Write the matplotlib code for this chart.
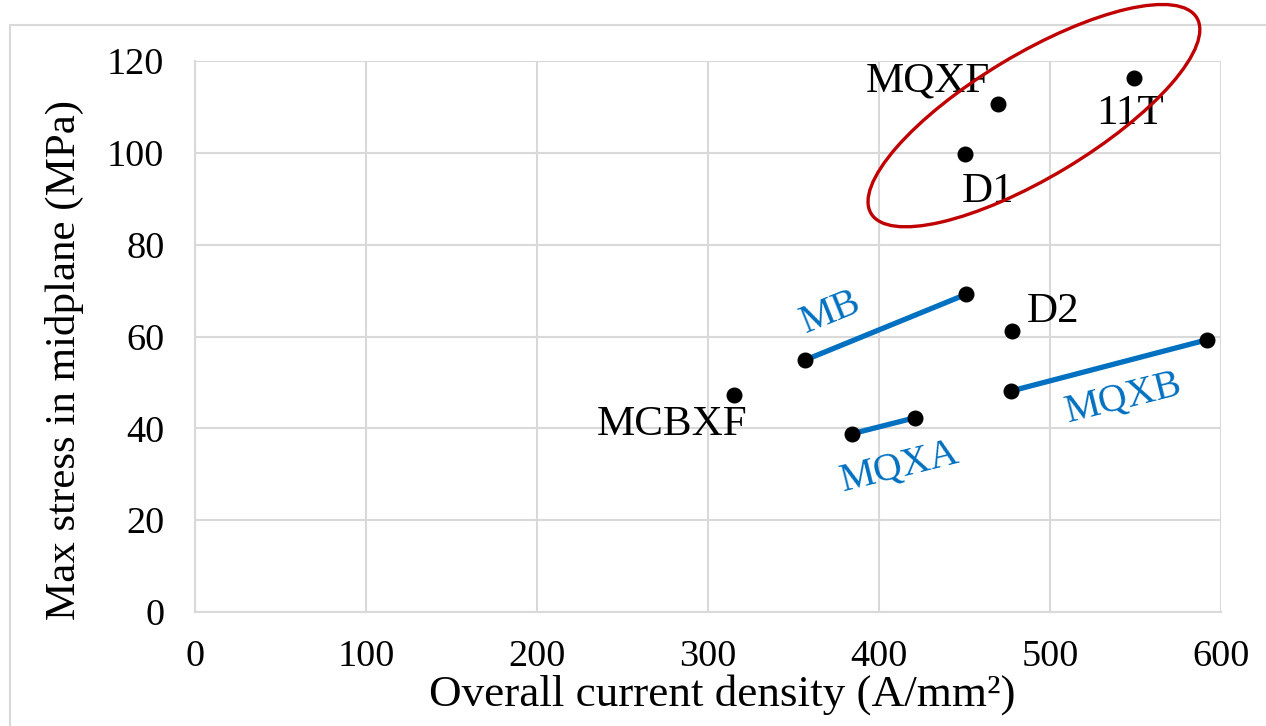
import matplotlib
matplotlib.use("Agg")
import matplotlib.pyplot as plt
from matplotlib.patches import Ellipse, Rectangle
from matplotlib.transforms import IdentityTransform

plt.rcParams['font.family'] = ['Liberation Serif', 'DejaVu Serif']

# single magnets (black dots)
pt_names = ['MQXF', '11T', 'D1', 'D2', 'MCBXF']
pt_x = [469.8, 549, 450, 478, 315]
pt_y = [110.6, 116.4, 99.8, 61.2, 47.3]

# magnet families (blue segments, two points each)
seg_names = ['MB', 'MQXA', 'MQXB']
seg_x = [[357, 451], [384, 421], [477, 592]]
seg_y = [[54.9, 69.2], [38.8, 42.3], [48.1, 59.3]]

# label placement (data coords) and rotation
pt_lab_pos = [(428.7, 115.6), (547, 108.5), (464, 91.6), (502, 65.4), (279, 40.7)]
seg_lab_pos = [(372, 65.1), (412, 31.6), (543, 46.4)]
seg_lab_rot = [22, 14, 14]

blue = '#0070C0'
grid_c = '#d9d9d9'

fig = plt.figure(figsize=(12.66, 7.26), dpi=100)
ax = fig.add_axes([195/1266, 1-612/726, (1221-195)/1266, (612-61)/726])

# chart frame like the excel chart area
fig.patches.append(Rectangle((10/1266, -0.01), 1.0, 1-25/726+0.01, transform=fig.transFigure,
                             fill=False, edgecolor=grid_c, linewidth=1.5, zorder=0))

for i in range(len(seg_names)):
    ax.plot(seg_x[i], seg_y[i], color=blue, linewidth=3.8, zorder=3)
    ax.plot(seg_x[i], seg_y[i], 'o', color='black', markersize=10.5, zorder=4)
    ax.text(seg_lab_pos[i][0], seg_lab_pos[i][1], seg_names[i], color=blue, fontsize=28.5,
            rotation=seg_lab_rot[i], ha='center', va='center', rotation_mode='anchor')

ax.plot(pt_x, pt_y, 'o', color='black', markersize=10.5, zorder=4)
for i in range(len(pt_names)):
    ax.text(pt_lab_pos[i][0], pt_lab_pos[i][1], pt_names[i], color='black', fontsize=31,
            ha='center', va='center')

ax.set_xlim(0, 600)
ax.set_ylim(0, 120)
ax.set_xticks(range(0, 601, 100))
ax.set_yticks(range(0, 121, 20))
ax.grid(True, color=grid_c, linewidth=1.5)
ax.set_axisbelow(True)
for s in ['top', 'right']:
    ax.spines[s].set_visible(False)
for s in ['left', 'bottom']:
    ax.spines[s].set_color(grid_c)
    ax.spines[s].set_linewidth(1.5)
ax.tick_params(axis='x', length=0, labelsize=27.5, pad=20)
ax.tick_params(axis='y', length=0, labelsize=27.5, pad=22)
ax.set_xlabel('Overall current density (A/mm²)', fontsize=32.5, va='center')
ax.set_ylabel('Max stress in midplane (MPa)', fontsize=31, va='center')
ax.xaxis.set_label_coords(0.514, -0.149)
ax.yaxis.set_label_coords(-0.127, 0.457)

# red ellipse around the Nb3Sn magnets (pixel sized, centred in data coords)
cx, cy = ax.transData.transform((490.6, 108.1))
ell = Ellipse((cx, cy), 380, 123, angle=31, transform=IdentityTransform(),
              fill=False, edgecolor='#C00000', linewidth=2.4, clip_on=False, zorder=5)
fig.patches.append(ell)

fig.savefig('out.png', dpi=100)
